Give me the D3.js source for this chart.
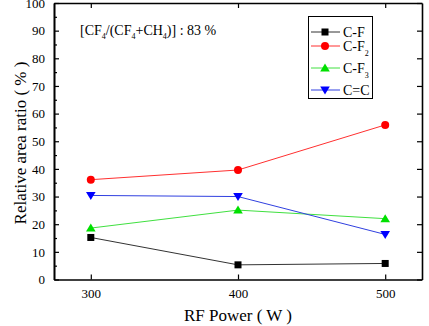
<!DOCTYPE html>
<html>
<head>
<meta charset="utf-8">
<script src="https://cdn.jsdelivr.net/npm/d3@7"></script>
</head>
<body style="margin:0">
<svg id="chart" width="429" height="326" font-family="Liberation Serif"></svg>
<script>
var width = 429, height = 326

var powers = [300, 400, 500]
var seriesNames = ['C-F', 'C-F2', 'C-F3', 'C=C']
var cf = [15.2, 5.3, 5.8]
var cf2 = [36.1, 39.6, 55.9]
var cf3 = [18.6, 25.1, 22.0]
var cc = [30.4, 30.0, 16.3]
var colors = ['#000', '#ff0000', '#00e000', '#0000ff']
var lineColors = ['#333', '#ff3030', '#40e040', '#3040e0']
var yTicks = d3.range(0, 101, 10)
var yMinor = d3.range(5, 100, 10)

var m = {left: 54, top: 3, right: 7, bottom: 46}

var x = d3.scaleLinear().domain([275, 525]).range([m.left, width - m.right])
var y = d3.scaleLinear().domain([0, 100]).range([height - m.bottom - 0.5, m.top])

var svg = d3.select('#chart')

var series = [cf, cf2, cf3, cc].map(function(vals, i){
  return {name: seriesNames[i], i: i, pts: vals.map(function(v, j){ return [powers[j], v] })}
})

// axes, ticks pointing inward
svg.append('g').attr('transform', 'translate(' + m.left + ',0)')
  .call(d3.axisLeft(y).tickValues(yTicks).tickSizeInner(-5).tickSizeOuter(0).tickPadding(9))
svg.append('g').attr('transform', 'translate(' + m.left + ',0)')
  .call(d3.axisLeft(y).tickValues(yMinor).tickSizeInner(-3).tickSizeOuter(0).tickFormat(''))
svg.append('g').attr('transform', 'translate(' + (width - m.right) + ',0)')
  .call(d3.axisRight(y).tickValues(yTicks).tickSizeInner(-5).tickSizeOuter(0).tickFormat(''))
svg.append('g').attr('transform', 'translate(0,' + y(0) + ')')
  .call(d3.axisBottom(x).tickValues(powers).tickSizeInner(-5).tickSizeOuter(0).tickPadding(9))
svg.append('g').attr('transform', 'translate(0,' + y(100) + ')')
  .call(d3.axisTop(x).tickValues(powers).tickSizeInner(-5).tickSizeOuter(0).tickFormat(''))

svg.selectAll('.domain').attr('stroke', '#000').attr('stroke-width', 1.6)
svg.selectAll('.tick line').attr('stroke', '#000').attr('stroke-width', 1.2)
svg.selectAll('.tick text').attr('font-size', 13).attr('fill', '#000')

// lines
var line = d3.line().x(function(d){ return x(d[0]) }).y(function(d){ return y(d[1]) })
svg.append('g').selectAll('path').data(series).enter().append('path')
  .attr('d', function(d){ return line(d.pts) })
  .attr('fill', 'none')
  .attr('stroke', function(d){ return lineColors[d.i] })
  .attr('stroke-width', 1)

function marker(sel, i){
  if (i == 0) sel.append('rect').attr('x', -3.5).attr('y', -3.5).attr('width', 7).attr('height', 7)
  else if (i == 1) sel.append('circle').attr('r', 4)
  else if (i == 2) sel.append('path').attr('d', 'M0,-4.5L4.8,3.5L-4.8,3.5Z')
  else sel.append('path').attr('d', 'M0,4.5L4.8,-3.5L-4.8,-3.5Z')
  sel.attr('fill', colors[i])
}

series.forEach(function(s){
  s.pts.forEach(function(p){
    svg.append('g').attr('transform', 'translate(' + x(p[0]) + ',' + y(p[1]) + ')')
      .call(marker, s.i)
  })
})

// legend
var lg = svg.append('g')
lg.append('rect').attr('x', 308.5).attr('y', 16.5).attr('width', 64).attr('height', 82)
  .attr('fill', '#fff').attr('stroke', '#000').attr('stroke-width', 1)
var rowY = [32, 46, 68, 90]
series.forEach(function(s, i){
  var r = lg.append('g').attr('transform', 'translate(0,' + rowY[i] + ')')
  r.append('line').attr('x1', 311).attr('x2', 340).attr('stroke', lineColors[i]).attr('stroke-width', 1)
  r.append('g').attr('transform', 'translate(325,0)').call(marker, i)
  var t = r.append('text').attr('x', 343).attr('y', 4.5).attr('font-size', 14).attr('fill', '#000')
  if (i == 1 || i == 2){
    t.text('C-F')
    t.append('tspan').attr('font-size', 8).attr('dy', 5).text(i == 1 ? '2' : '3')
  } else {
    t.text(s.name)
  }
})

// annotation
var an = svg.append('text').attr('x', 80).attr('y', 35).attr('font-size', 14).attr('fill', '#000')
an.append('tspan').text('[CF')
an.append('tspan').attr('font-size', 8).attr('dy', 4).text('4')
an.append('tspan').attr('dy', -4).text('/(CF')
an.append('tspan').attr('font-size', 8).attr('dy', 4).text('4')
an.append('tspan').attr('dy', -4).text('+CH')
an.append('tspan').attr('font-size', 8).attr('dy', 4).text('4')
an.append('tspan').attr('dy', -4).text(')] : 83 %')

// axis titles
svg.append('text').attr('transform', 'translate(26,143) rotate(-90)')
  .attr('text-anchor', 'middle').attr('font-size', 17).attr('fill', '#000')
  .text('Relative area ratio ( % )')
svg.append('text').attr('x', 238).attr('y', 321)
  .attr('text-anchor', 'middle').attr('font-size', 17).attr('fill', '#000')
  .text('RF Power ( W )')

svg.selectAll('g').attr('font-family', null)
svg.selectAll('text').attr('font-family', 'Liberation Serif')
</script>
</body>
</html>
